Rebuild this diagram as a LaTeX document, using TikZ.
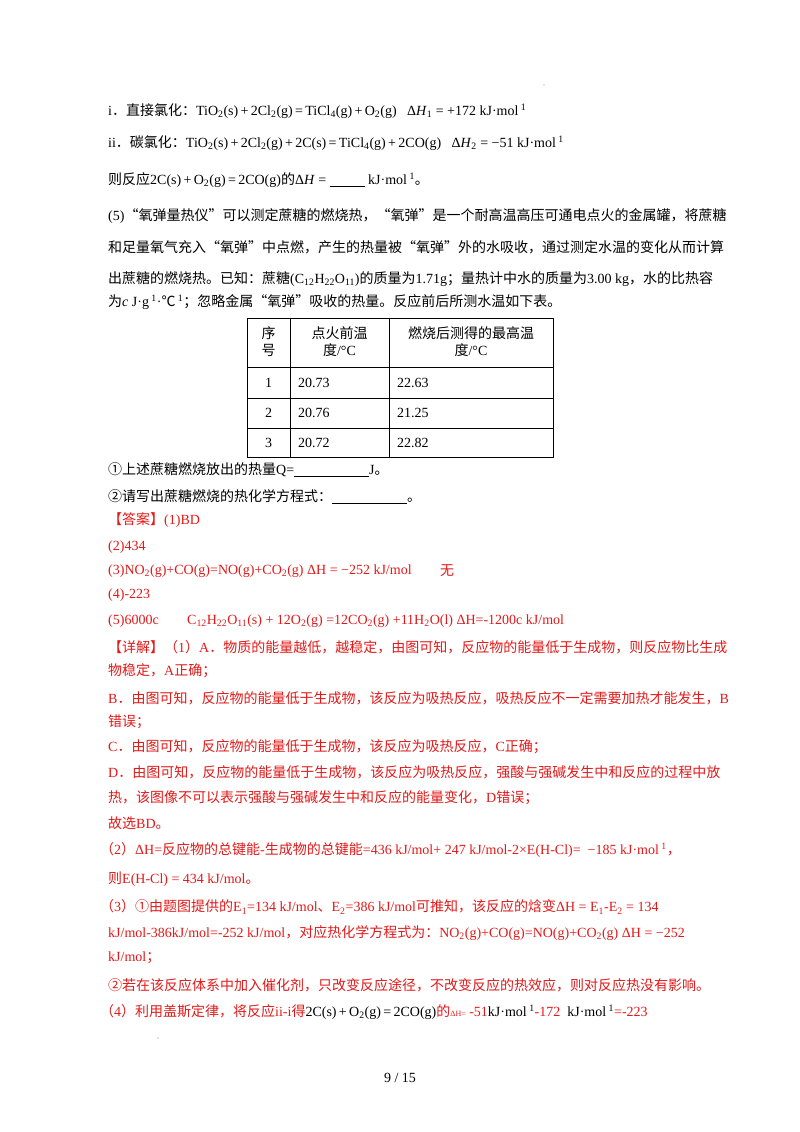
\documentclass[tikz,border=0pt]{standalone}
\usepackage{fontspec}
\setmainfont{Liberation Serif}
\newfontfamily\zh{Noto Sans CJK SC}
\XeTeXinterchartokenstate=1
\newXeTeXintercharclass\cjkclass
\newcount\mycnt
\def\setrange#1#2{\mycnt=#1 \loop\XeTeXcharclass\mycnt=\cjkclass\advance\mycnt 1 \ifnum\mycnt<#2 \repeat}
\setrange{"4E00}{"A000}
\setrange{"3000}{"3040}
\setrange{"FF00}{"FFF0}
\setrange{"2018}{"2020}
\setrange{"2460}{"2474}
\XeTeXcharclass"2103=\cjkclass
\XeTeXinterchartoks 0 \cjkclass={\zh}
\XeTeXinterchartoks 4095 \cjkclass={\zh}
\XeTeXinterchartoks \cjkclass 0={\rmfamily}
\XeTeXinterchartoks \cjkclass 4095={\rmfamily}
\definecolor{ans}{RGB}{225,25,25}
\newcommand{\sbs}[1]{\textsubscript{#1}}
\newcommand{\blank}[1]{\rule[-2pt]{#1}{0.6pt}}
\tikzset{ln/.style={anchor=west,inner sep=0pt,font=\fontsize{14}{17}\selectfont},
 rd/.style={ln,text=ans}, tb/.style={line width=1pt}}
\begin{document}
\begin{tikzpicture}[x=1pt,y=-1pt]
\useasboundingbox (0,0) rectangle (800,1132);
\fill[gray] (544,85) circle (0.6);
\node[ln] (l1) at (108,111) {i．直接氯化：TiO\sbs{2}(s)\,+\,2Cl\sbs{2}(g)\,=\,TiCl\sbs{4}(g)\,+\,O\sbs{2}(g) \ \ Δ\textit{H}\sbs{1} = +172 kJ·mol\textsuperscript{ 1}};
\node[ln] (l2) at (108,143) {ii．碳氯化：TiO\sbs{2}(s)\,+\,2Cl\sbs{2}(g)\,+\,2C(s)\,=\,TiCl\sbs{4}(g)\,+\,2CO(g) \ \ Δ\textit{H}\sbs{2} = −51 kJ·mol\textsuperscript{ 1}};
\node[ln] (l3) at (108,180) {则反应2C(s)\,+\,O\sbs{2}(g)\,=\,2CO(g)的Δ\textit{H} = \blank{35pt} kJ·mol\textsuperscript{ 1}。};
\node[ln] (l4) at (108,216) {(5)“氧弹量热仪”可以测定蔗糖的燃烧热，“氧弹”是一个耐高温高压可通电点火的金属罐，将蔗糖};
\node[ln] (l5) at (108,247) {和足量氧气充入“氧弹”中点燃，产生的热量被“氧弹”外的水吸收，通过测定水温的变化从而计算};
\node[ln] (l6) at (108,279) {出蔗糖的燃烧热。已知：蔗糖(C\sbs{12}H\sbs{22}O\sbs{11})的质量为1.71g；量热计中水的质量为3.00 kg，水的比热容};
\node[ln] (l7) at (108,302) {为\textit{c} J·g\textsuperscript{ 1}·℃\textsuperscript{ 1}；忽略金属“氧弹”吸收的热量。反应前后所测水温如下表。};
% table
\draw[tb] (247,318) rectangle (553,457);
\foreach \yy in {367,398,428} \draw[tb] (247,\yy) -- (553,\yy);
\foreach \xx in {290,389} \draw[tb] (\xx,318) -- (\xx,457);
\node[ln,anchor=center,align=center] (h1) at (268.5,342) {序\\号};
\node[ln,anchor=center,align=center] (h2) at (339.5,342) {点火前温\\度/°C};
\node[ln,anchor=center,align=center] (h3) at (471,342) {燃烧后测得的最高温\\度/°C};
\node[ln,anchor=center] (r1) at (268.5,382.5) {1};
\node[ln] (r1a) at (298,382.5) {20.73};
\node[ln] (r1b) at (397,382.5) {22.63};
\node[ln,anchor=center] (r2) at (268.5,413) {2};
\node[ln] (r2a) at (298,413) {20.76};
\node[ln] (r2b) at (397,413) {21.25};
\node[ln,anchor=center] (r3) at (268.5,442.5) {3};
\node[ln] (r3a) at (298,442.5) {20.72};
\node[ln] (r3b) at (397,442.5) {22.82};
\node[ln] (q1) at (108,470) {①上述蔗糖燃烧放出的热量Q=\blank{75pt}J。};
\node[ln] (q2) at (108,497) {②请写出蔗糖燃烧的热化学方程式：\blank{75pt}。};
% answers
\node[rd] (a1) at (108,520) {【答案】(1)BD};
\node[rd] (a2) at (108,547) {(2)434};
\node[rd] (a3) at (108,571) {(3)NO\sbs{2}(g)+CO(g)=NO(g)+CO\sbs{2}(g) ΔH = −252 kJ/mol};
\node[rd] (a3b) at (440,571) {无};
\node[rd] (a4) at (108,595) {(4)-223};
\node[rd] (a5) at (108,621) {(5)6000c};
\node[rd] (a5b) at (187,621) {C\sbs{12}H\sbs{22}O\sbs{11}(s) + 12O\sbs{2}(g) =12CO\sbs{2}(g) +11H\sbs{2}O(l) ΔH=-1200c kJ/mol};
\node[rd] (d1) at (108,647) {【详解】（1）A．物质的能量越低，越稳定，由图可知，反应物的能量低于生成物，则反应物比生成};
\node[rd] (d2) at (108,671) {物稳定，A正确；};
\node[rd] (d3) at (108,698) {B．由图可知，反应物的能量低于生成物，该反应为吸热反应，吸热反应不一定需要加热才能发生，B};
\node[rd] (d4) at (108,722) {错误；};
\node[rd] (d5) at (108,747) {C．由图可知，反应物的能量低于生成物，该反应为吸热反应，C正确；};
\node[rd] (d6) at (108,772) {D．由图可知，反应物的能量低于生成物，该反应为吸热反应，强酸与强碱发生中和反应的过程中放};
\node[rd] (d7) at (108,798) {热，该图像不可以表示强酸与强碱发生中和反应的能量变化，D错误；};
\node[rd] (d8) at (108,823) {故选BD。};
\node[rd] (e1) at (100,850) {（2）ΔH=反应物的总键能-生成物的总键能=436 kJ/mol+ 247 kJ/mol-2×E(H-Cl)= \ −185 kJ·mol\textsuperscript{ 1}，};
\node[rd] (e2) at (108,879) {则E(H-Cl) = 434 kJ/mol。};
\node[rd] (e3) at (100,907) {（3）①由题图提供的E\sbs{1}=134 kJ/mol、E\sbs{2}=386 kJ/mol可推知，该反应的焓变ΔH = E\sbs{1}-E\sbs{2} = 134};
\node[rd] (e4) at (108,933) {kJ/mol-386kJ/mol=-252 kJ/mol，对应热化学方程式为：NO\sbs{2}(g)+CO(g)=NO(g)+CO\sbs{2}(g) ΔH = −252};
\node[rd] (e5) at (108,958) {kJ/mol；};
\node[rd] (e6) at (108,985) {②若在该反应体系中加入催化剂，只改变反应途径，不改变反应的热效应，则对反应热没有影响。};
\node[rd] (e7) at (100,1012) {（4）利用盖斯定律，将反应ii-i得{\color{black}2C(s)\,+\,O\sbs{2}(g)\,=\,2CO(g)}的{\footnotesize ΔH=} -51{\color{black} kJ·mol\textsuperscript{ 1}}-172 \ {\color{black}kJ·mol\textsuperscript{ 1}}=-223};
\fill[gray] (158,1038) circle (0.6);
\node[ln,anchor=center] (pg) at (400,1078) {9 / 15};
\end{tikzpicture}
\end{document}
